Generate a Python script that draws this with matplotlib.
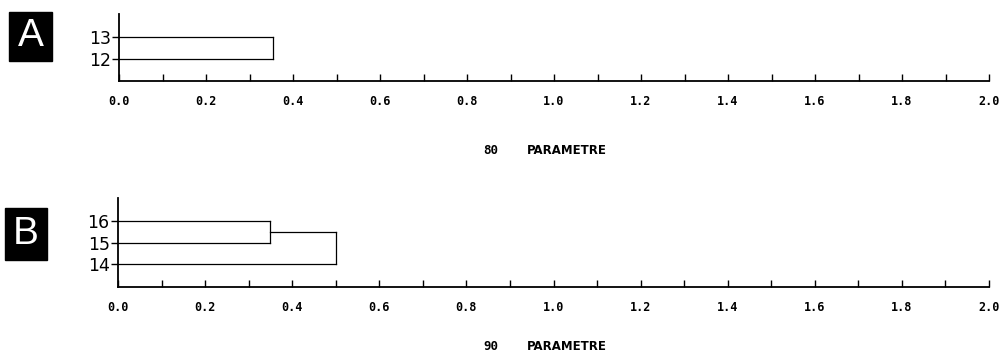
import matplotlib
matplotlib.use("Agg")
import matplotlib.pyplot as plt


# Panel A: two leaves joined at one level
a_leaves = [12, 13]
a_left = [12]          # lower branch position of each join
a_right = [13]         # upper branch position of each join
a_left_from = [0.0]    # where each branch starts on the x axis
a_right_from = [0.0]
a_height = [0.355]     # join level

# Panel B: 15 and 16 join first, then 14 joins that group
b_leaves = [14, 15, 16]
b_left = [15, 14]
b_right = [16, 15.5]
b_left_from = [0.0, 0.0]
b_right_from = [0.0, 0.35]
b_height = [0.35, 0.5]

x_ticks = [0.0, 0.2, 0.4, 0.6, 0.8, 1.0, 1.2, 1.4, 1.6, 1.8, 2.0]
x_minor = [0.1, 0.3, 0.5, 0.7, 0.9, 1.1, 1.3, 1.5, 1.7, 1.9]

W, H = 1008, 360
fig = plt.figure(figsize=(W / 100, H / 100), dpi=100)


def panel(rect, leaves, left, right, left_from, right_from, height,
          ylim, letter, letter_box, xlabel_y, param):
    ax = fig.add_axes(rect)
    for lo, hi, lf, rf, h in zip(left, right, left_from, right_from, height):
        ax.plot([lf, h], [lo, lo], color="black", lw=0.9)
        ax.plot([rf, h], [hi, hi], color="black", lw=0.9)
        ax.plot([h, h], [lo, hi], color="black", lw=0.9)

    ax.set_xlim(0, 2.0)
    ax.set_ylim(*ylim)
    for s in ("top", "right"):
        ax.spines[s].set_visible(False)
    for s in ("left", "bottom"):
        ax.spines[s].set_linewidth(1.3)

    ax.set_xticks(x_ticks)
    ax.set_xticklabels([f"{v:.1f}" for v in x_ticks],
                       family="DejaVu Sans Mono", fontsize=8.5,
                       fontweight="bold")
    ax.set_xticks(x_minor, minor=True)
    ax.tick_params(axis="x", which="both", direction="in", length=5,
                   width=1.0, pad=10)
    ax.set_yticks(leaves)
    ax.set_yticklabels([str(v) for v in leaves], family="DejaVu Sans",
                       fontsize=12.5)
    ax.tick_params(axis="y", direction="out", length=5, width=1.0, pad=1)

    # panel letter, white on black
    bx, by, bw, bh = letter_box
    fig.patches.append(plt.Rectangle((bx / W, 1 - (by + bh) / H), bw / W,
                                     bh / H, transform=fig.transFigure,
                                     color="black"))
    fig.text((bx + bw / 2) / W, 1 - (by + bh / 2) / H, letter,
             color="white", fontsize=28, ha="center", va="center",
             family="Liberation Sans")

    fig.text(483 / W, 1 - xlabel_y / H, param, fontsize=9,
             fontweight="bold", va="center", family="DejaVu Sans Mono")
    fig.text(527 / W, 1 - xlabel_y / H, "PARAMETRE", fontsize=8.5,
             fontweight="bold", va="center", family="DejaVu Sans")
    return ax


panel([119 / W, (H - 81) / H, 870 / W, 67 / H],
      a_leaves, a_left, a_right, a_left_from, a_right_from, a_height,
      (10.95, 14.1), "A", (9, 12, 43, 49), 150, "80")
panel([118 / W, (H - 287) / H, 871 / W, 89 / H],
      b_leaves, b_left, b_right, b_left_from, b_right_from, b_height,
      (12.93, 17.07), "B", (5, 208, 42, 52), 347, "90")

fig.savefig("out.png", dpi=100)
